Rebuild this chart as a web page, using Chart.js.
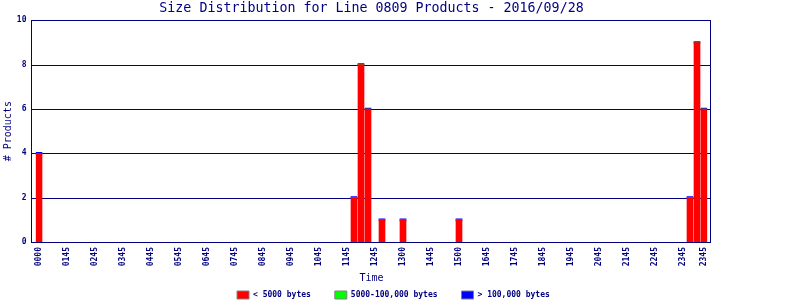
<!DOCTYPE html>
<html>
<head>
<meta charset="utf-8">
<script src="https://cdn.jsdelivr.net/npm/chart.js@4/dist/chart.umd.min.js"></script>
<style>html,body{margin:0;padding:0;background:#fff}</style>
</head>
<body>
<canvas id="c" width="800" height="300"></canvas>
<script>
const _ = null;
const chartTitle = 'Size Distribution for Line 0809 Products - 2016/09/28';
const xAxisTitle = 'Time';
const yAxisTitle = '# Products';
const seriesNames = ['< 5000 bytes', '5000-100,000 bytes', '> 100,000 bytes'];

const categories = [
  '0000','0015','0030','0045','0100','0115','0130','0145','0200','0215','0230','0245',
  '0300','0315','0330','0345','0400','0415','0430','0445','0500','0515','0530','0545',
  '0600','0615','0630','0645','0700','0715','0730','0745','0800','0815','0830','0845',
  '0900','0915','0930','0945','1000','1015','1030','1045','1100','1115','1130','1145',
  '1200','1215','1230','1245','1300','1315','1330','1345','1400','1415','1430','1445',
  '1500','1515','1530','1545','1600','1615','1630','1645','1700','1715','1730','1745',
  '1800','1815','1830','1845','1900','1915','1930','1945','2000','2015','2030','2045',
  '2100','2115','2130','2145','2200','2215','2230','2245','2300','2315','2330','2345'
];

const tickAt   = [0, 4, 8, 12, 16, 20, 24, 28, 32, 36, 40, 44, 48, 52, 56, 60, 64, 68, 72, 76, 80, 84, 88, 92, 95];
const tickText = ['0000','0145','0245','0345','0445','0545','0645','0745','0845','0945','1045','1145',
                  '1245','1300','1445','1500','1645','1745','1845','1945','2045','2145','2245','2345','2345'];

const yTicks = [0, 2, 4, 6, 8, 10];

const smallCounts = [
  4,_,_,_,_,_,_,_,_,_,_,_,
  _,_,_,_,_,_,_,_,_,_,_,_,
  _,_,_,_,_,_,_,_,_,_,_,_,
  _,_,_,_,_,_,_,_,_,2,8,6,
  _,1,_,_,1,_,_,_,_,_,_,_,
  1,_,_,_,_,_,_,_,_,_,_,_,
  _,_,_,_,_,_,_,_,_,_,_,_,
  _,_,_,_,_,_,_,_,_,2,9,6
];
const mediumCounts = [
  0,_,_,_,_,_,_,_,_,_,_,_,
  _,_,_,_,_,_,_,_,_,_,_,_,
  _,_,_,_,_,_,_,_,_,_,_,_,
  _,_,_,_,_,_,_,_,_,0,0,0,
  _,0,_,_,0,_,_,_,_,_,_,_,
  0,_,_,_,_,_,_,_,_,_,_,_,
  _,_,_,_,_,_,_,_,_,_,_,_,
  _,_,_,_,_,_,_,_,_,0,0,0
];
const largeCounts = [
  0,_,_,_,_,_,_,_,_,_,_,_,
  _,_,_,_,_,_,_,_,_,_,_,_,
  _,_,_,_,_,_,_,_,_,_,_,_,
  _,_,_,_,_,_,_,_,_,0,0,0,
  _,0,_,_,0,_,_,_,_,_,_,_,
  0,_,_,_,_,_,_,_,_,_,_,_,
  _,_,_,_,_,_,_,_,_,_,_,_,
  _,_,_,_,_,_,_,_,_,0,0,0
];

const NAVY = '#000080';
const MONO = "'DejaVu Sans Mono', 'Liberation Mono', monospace";

const framePlugin = {
  id: 'frame',
  beforeDatasetsDraw(chart) {
    const {ctx, chartArea: a, scales: {y}} = chart;
    const L = Math.floor(a.left - 4) + 0.5;
    const R = Math.floor(a.right + 3) + 0.5;
    ctx.save();
    ctx.strokeStyle = NAVY;
    ctx.lineWidth = 1;
    ctx.beginPath();
    y.ticks.forEach(t => {
      const py = Math.round(y.getPixelForValue(t.value)) + 0.5;
      ctx.moveTo(L, py);
      ctx.lineTo(R, py);
    });
    ctx.stroke();
    ctx.restore();
  },
  afterDatasetsDraw(chart) {
    const {ctx, chartArea: a} = chart;
    const L = Math.floor(a.left - 4) + 0.5;
    const R = Math.floor(a.right + 3) + 0.5;
    const T = Math.round(a.top) + 0.5;
    const B = Math.round(a.bottom) + 0.5;
    ctx.save();
    ctx.strokeStyle = NAVY;
    ctx.lineWidth = 1;
    ctx.strokeRect(L, T, R - L, B - T);
    ctx.restore();
  }
};

new Chart(document.getElementById('c'), {
  type: 'bar',
  data: {
    labels: categories,
    datasets: [
      { label: seriesNames[0], data: smallCounts, backgroundColor: '#ff0000', borderWidth: 0, barThickness: 6 },
      { label: seriesNames[1], data: mediumCounts, backgroundColor: '#00ff00', borderWidth: 0, barThickness: 6 },
      { label: seriesNames[2], data: largeCounts, backgroundColor: '#0000ff', borderWidth: 0, barThickness: 6, minBarLength: 2 }
    ]
  },
  options: {
    responsive: false,
    animation: false,
    devicePixelRatio: 1,
    layout: { padding: { left: 0, right: 13.2, top: 0, bottom: -9 } },
    plugins: {
      title: {
        display: true, text: chartTitle, color: NAVY, fullSize: false,
        font: { family: MONO, size: 13.3, weight: 'normal' },
        padding: { top: 1, bottom: 3.4 }
      },
      legend: {
        position: 'bottom', align: 'center',
        labels: {
          font: { family: MONO, size: 8, weight: 'bold' }, color: NAVY,
          boxWidth: 12, boxHeight: 8, padding: 24,
          generateLabels(chart) {
            const items = Chart.defaults.plugins.legend.labels.generateLabels(chart);
            items.forEach(it => { it.strokeStyle = '#808080'; it.lineWidth = 1; });
            return items;
          }
        }
      },
      tooltip: { enabled: false }
    },
    scales: {
      x: {
        stacked: true,
        grid: { display: false, drawTicks: false, tickLength: 0 },
        border: { display: false },
        ticks: {
          autoSkip: false, minRotation: 90, maxRotation: 90, padding: 5,
          color: NAVY, font: { family: MONO, size: 8, weight: 'bold' },
          callback: (v, i) => { const k = tickAt.indexOf(i); return k >= 0 ? tickText[k] : ''; }
        },
        title: {
          display: true, text: xAxisTitle, color: NAVY,
          font: { family: MONO, size: 10 }, padding: { top: 0, bottom: -17 }
        },
        afterFit(s) { s.height = 25; }
      },
      y: {
        stacked: true, min: 0, max: 10,
        afterBuildTicks(s) { s.ticks = yTicks.map(v => ({ value: v })); },
        grid: { display: false, drawTicks: false, tickLength: 0 },
        border: { display: false },
        ticks: { padding: 9, color: NAVY, font: { family: MONO, size: 8, weight: 'bold' } },
        title: {
          display: true, text: yAxisTitle, color: NAVY,
          font: { family: MONO, size: 10 }, padding: { top: 2, bottom: 0 }
        },
        afterFit(s) { s.width = 35.5; }
      },
      yPad: {
        type: 'linear', position: 'right', display: true,
        grid: { display: false, drawTicks: false },
        border: { display: false },
        ticks: { display: false },
        afterFit(s) { s.width = 79.3; }
      }
    }
  },
  plugins: [framePlugin]
});
</script>
</body>
</html>
